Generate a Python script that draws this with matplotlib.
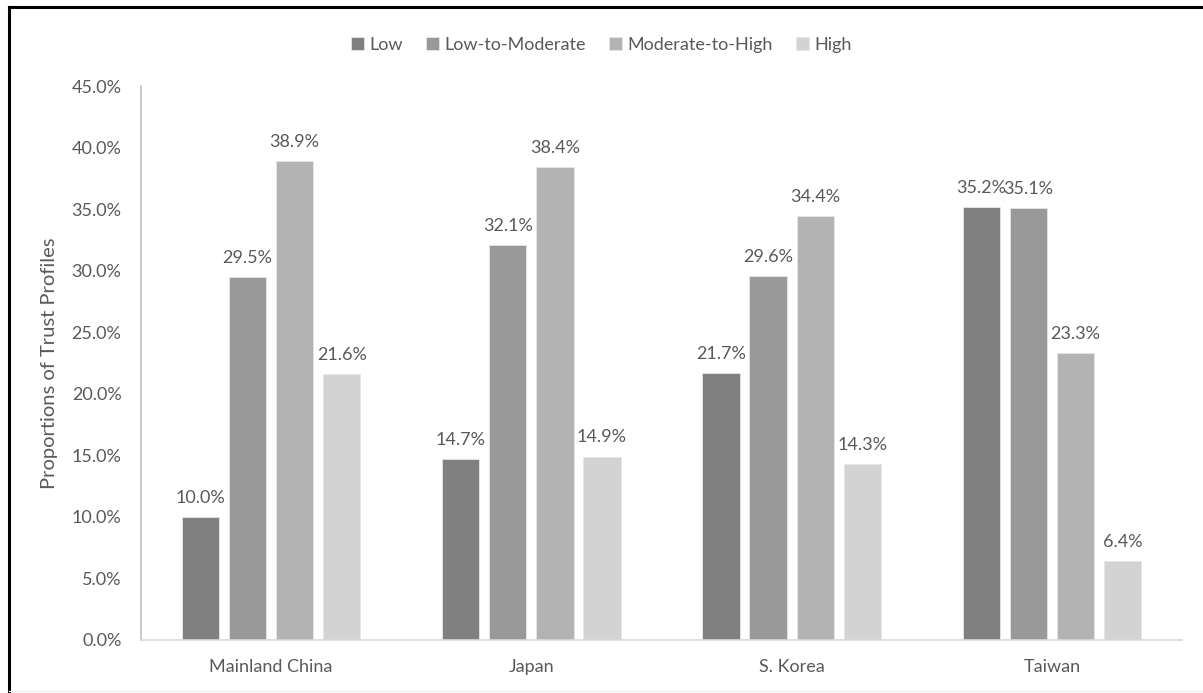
import numpy as np
import matplotlib.pyplot as plt
from matplotlib.lines import Line2D
from matplotlib.ticker import FuncFormatter

plt.rcParams['font.family'] = ['Lato', 'DejaVu Sans']

regions = ['Mainland China', 'Japan', 'S. Korea', 'Taiwan']
profiles = ['Low', 'Low-to-Moderate', 'Moderate-to-High', 'High']
low = [10.0, 14.7, 21.7, 35.2]
low_mod = [29.5, 32.1, 29.6, 35.1]
mod_high = [38.9, 38.4, 34.4, 23.3]
high = [21.6, 14.9, 14.3, 6.4]
colors = ['#808080', '#999999', '#b3b3b3', '#d3d3d3']
text_col = '#595959'

fig = plt.figure(figsize=(12.03, 6.93), dpi=100)
ax = fig.add_axes([0.1172, 0.0765, 0.8653, 0.7994])

x = np.arange(len(regions))
width = 0.143
step = 0.181
series = [low, low_mod, mod_high, high]
for i, (vals, name) in enumerate(zip(series, profiles)):
    pos = x + (i - 1.5) * step
    bars = ax.bar(pos, vals, width, color=colors[i], label=name,
                  edgecolor='#e6e6e6', linewidth=0.6)
    for b, v in zip(bars, vals):
        ax.text(b.get_x() + b.get_width() / 2, v + 0.9, f'{v:.1f}%',
                ha='center', va='bottom', fontsize=13, color=text_col)

ax.set_xlim(-0.5, 3.5)
ax.set_ylim(0, 45)
ax.set_yticks(np.arange(0, 46, 5))
ax.yaxis.set_major_formatter(FuncFormatter(lambda v, p: f'{v:.1f}%'))
ax.set_xticks(x)
ax.set_xticklabels(regions)
ax.tick_params(axis='both', length=0, labelsize=13, colors=text_col)
ax.tick_params(axis='x', pad=14)
ax.tick_params(axis='y', pad=14)
for side in ['top', 'right']:
    ax.spines[side].set_visible(False)
ax.spines['left'].set_color('#bfbfbf')
ax.spines['bottom'].set_color('#d9d9d9')
ax.spines['left'].set_linewidth(1.2)
ax.spines['bottom'].set_linewidth(1.2)
ax.set_ylabel('Proportions of Trust Profiles', fontsize=14.5, color=text_col, labelpad=10)

leg = fig.legend(loc='upper center', bbox_to_anchor=(0.5, 0.97), ncol=4, frameon=False,
                 fontsize=13, handlelength=0.7, handleheight=0.7, handletextpad=0.3,
                 columnspacing=1.3)
for t in leg.get_texts():
    t.set_color(text_col)

# outer frame
fig.add_artist(Line2D([0.0075, 0.0075], [0.0, 0.99], transform=fig.transFigure, color='black', lw=2.2))
fig.add_artist(Line2D([0.0075, 1.0], [0.99, 0.99], transform=fig.transFigure, color='black', lw=2.2))
fig.add_artist(Line2D([0.0075, 1.0], [0.003, 0.003], transform=fig.transFigure, color='#ececec', lw=1))

fig.savefig('out.png', dpi=100)
